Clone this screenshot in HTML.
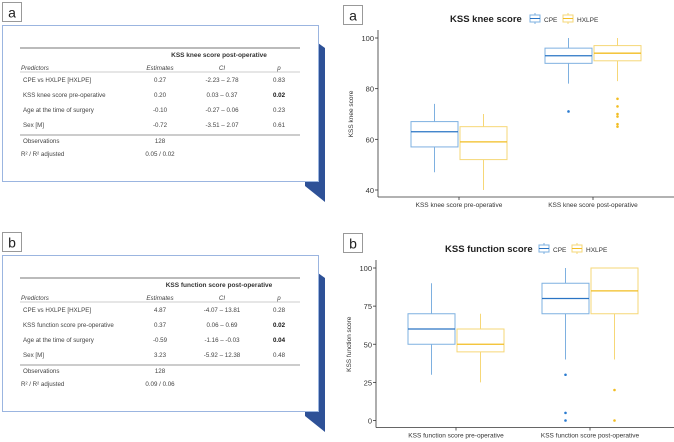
<!DOCTYPE html>
<html><head><meta charset="utf-8">
<style>
body{margin:0;width:674px;height:442px;background:#fff;overflow:hidden;font-family:"Liberation Sans",sans-serif;}
svg{position:absolute;left:0;top:0}
</style></head>
<body>
<svg id="s" width="674" height="442" xmlns="http://www.w3.org/2000/svg" font-family="Liberation Sans, sans-serif"></svg>
<script>
// ---- data ----
const groups = ['CPE','HXLPE'];
const kneeCats = ['KSS knee score pre-operative','KSS knee score post-operative'];
const kneeCPE = [[47,57,63,67,74],[82,90,93,96,100]];
const kneeHX = [[40,52,59,65,70],[83,91,94,97,100]];
const kneeCPEout = [[],[71]];
const kneeHXout = [[],[76,73,70,69,66,65]];
const kneeTicks = [40,60,80,100];
const funcCats = ['KSS function score pre-operative','KSS function score post-operative'];
const funcCPE = [[30,50,60,70,90],[40,70,80,90,100]];
const funcHX = [[25,45,50,60,70],[40,70,85,100,100]];
const funcCPEout = [[],[30,5,0]];
const funcHXout = [[],[20,0]];
const funcTicks = [0,25,50,75,100];

const tableA = [['CPE vs HXLPE [HXLPE]','0.27','-2.23 – 2.78','0.83',false],['KSS knee score pre-operative','0.20','0.03 – 0.37','0.02',true],['Age at the time of surgery','-0.10','-0.27 – 0.06','0.23',false],['Sex [M]','-0.72','-3.51 – 2.07','0.61',false]];
const tableB = [['CPE vs HXLPE [HXLPE]','4.87','-4.07 – 13.81','0.28',false],['KSS function score pre-operative','0.37','0.06 – 0.69','0.02',true],['Age at the time of surgery','-0.59','-1.16 – -0.03','0.04',true],['Sex [M]','3.23','-5.92 – 12.38','0.48',false]];

const S=document.getElementById('s');
const NS='http://www.w3.org/2000/svg';
function el(tag,attrs,parent,text){const e=document.createElementNS(NS,tag);for(const k in attrs)e.setAttribute(k,attrs[k]);if(text!==undefined)e.textContent=text;(parent||S).appendChild(e);return e;}

function labelBox(x,y,t,name){
  const g=el('g',{});
  
  
  el('rect',{x:x,y:y,width:19,height:19,fill:'#fff',stroke:'#999','stroke-width':1},g);
  el('text',{x:x+9.5,y:y+15,'font-size':14,'text-anchor':'middle',fill:'#222'},g,t);
}

function table(y0,title,rows,obs,r2,name){
  const g=el('g',{});
  
  
  // ribbon
  const rb=el('polygon',{points:`318,${y0+18} 325,${y0+23} 325,${y0+177} 305,${y0+161} 305,${y0+156} 318,${y0+156}`,fill:'#2e5197'},g);
  
  
  el('rect',{x:2.5,y:y0+0.5,width:316,height:156,fill:'#fff',stroke:'#9bb5e0','stroke-width':1},g);
  el('line',{x1:20,x2:300,y1:y0+23,y2:y0+23,stroke:'#777','stroke-width':1},g);
  el('text',{x:219,y:y0+32,'font-size':6.5,'font-weight':'bold','text-anchor':'middle',fill:'#333'},g,title);
  const hy=y0+45;
  el('text',{x:21,y:hy,'font-size':6.2,'font-style':'italic',fill:'#444'},g,'Predictors');
  el('text',{x:160,y:hy,'font-size':6.2,'font-style':'italic','text-anchor':'middle',fill:'#444'},g,'Estimates');
  el('text',{x:222,y:hy,'font-size':6.2,'font-style':'italic','text-anchor':'middle',fill:'#444'},g,'CI');
  el('text',{x:279,y:hy,'font-size':6.2,'font-style':'italic','text-anchor':'middle',fill:'#444'},g,'p');
  el('line',{x1:20,x2:300,y1:hy+2,y2:hy+2,stroke:'#999','stroke-width':0.6},g);
  rows.forEach((r,i)=>{
    const y=hy+12+i*15;
    el('text',{x:23,y:y,'font-size':6.2,fill:'#444'},g,r[0]);
    el('text',{x:160,y:y,'font-size':6.2,'text-anchor':'middle',fill:'#444'},g,r[1]);
    el('text',{x:222,y:y,'font-size':6.2,'text-anchor':'middle',fill:'#444'},g,r[2]);
    el('text',{x:279,y:y,'font-size':6.2,'text-anchor':'middle',fill:r[4]?'#111':'#444','font-weight':r[4]?'bold':'normal'},g,r[3]);
  });
  const ry=hy+12+3*15+8;
  el('line',{x1:20,x2:300,y1:ry,y2:ry,stroke:'#999','stroke-width':1},g);
  el('text',{x:23,y:ry+8,'font-size':6.2,fill:'#444'},g,'Observations');
  el('text',{x:160,y:ry+8,'font-size':6.2,'text-anchor':'middle',fill:'#444'},g,obs);
  el('text',{x:21,y:ry+21,'font-size':6.2,fill:'#444'},g,'R² / R² adjusted');
  el('text',{x:160,y:ry+21,'font-size':6.2,'text-anchor':'middle',fill:'#444'},g,r2);
}

const COL={CPE:{box:'#7eb0e0',med:'#2a74c4',pt:'#2a7bd0'},HXLPE:{box:'#f6d777',med:'#f2bd22',pt:'#f2bd22'}};

function chart(o){
  const g=el('g',{});
  
  
  const y=v=>o.yBot-(v-o.vMin)/(o.vMax-o.vMin)*(o.yBot-o.yTop);
  const x=i=>o.cx0+i*(o.cx1-o.cx0);
  // title & legend
  const t=el('text',{x:o.titleX,y:o.titleY,'font-size':9.5,'font-weight':'bold',fill:'#222'},g,o.title);
  
  
  groups.forEach((gr,k)=>{
    const lx=o.legX+k*33;
    const lg=el('g',{},g);
    
    
    el('line',{x1:lx+5,x2:lx+5,y1:o.titleY-9,y2:o.titleY+2,stroke:COL[gr].box,'stroke-width':1},lg);
    el('rect',{x:lx,y:o.titleY-7,width:10,height:7,fill:'#fff',stroke:COL[gr].box,'stroke-width':1},lg);
    el('line',{x1:lx,x2:lx+10,y1:o.titleY-3.5,y2:o.titleY-3.5,stroke:COL[gr].med,'stroke-width':1},lg);
    el('text',{x:lx+14,y:o.titleY,'font-size':6.5,fill:'#333'},lg,gr);
  });
  // axes
  el('line',{x1:o.axX,x2:674,y1:o.yBot+7,y2:o.yBot+7,stroke:'#333','stroke-width':0.8},g);
  el('line',{x1:o.axX,x2:o.axX,y1:o.yTop-8,y2:o.yBot+7,stroke:'#333','stroke-width':0.8},g);
  o.ticks.forEach(v=>{
    el('line',{x1:o.axX-3,x2:o.axX,y1:y(v),y2:y(v),stroke:'#333','stroke-width':0.8},g);
    const tt=el('text',{x:o.axX-4,y:y(v)+3,'font-size':7.5,'text-anchor':'end',fill:'#333'},g,v);
    
    
  });
  const yl=el('text',{x:0,y:0,'font-size':6.5,'text-anchor':'middle',fill:'#333',transform:`translate(${o.axX-25},${(o.yTop+o.yBot)/2}) rotate(-90)`},g,o.ylab);
  
  
  o.cats.forEach((c,i)=>{
    el('line',{x1:x(i),x2:x(i),y1:o.yBot+7,y2:o.yBot+10,stroke:'#333','stroke-width':0.8},g);
    const xl=el('text',{x:x(i),y:o.yBot+17,'font-size':6.5,'text-anchor':'middle',fill:'#333'},g,c);
    
    
  });
  [[o.cpe,o.cpeOut,'CPE',-1],[o.hx,o.hxOut,'HXLPE',1]].forEach(([d,out,gr,sgn])=>{
    d.forEach((q,i)=>{
      const cx=x(i)+sgn*24.5, w=47;
      const b=el('g',{},g);
      
      
      el('line',{x1:cx,x2:cx,y1:y(q[0]),y2:y(q[1]),stroke:COL[gr].box,'stroke-width':1},b);
      el('line',{x1:cx,x2:cx,y1:y(q[3]),y2:y(q[4]),stroke:COL[gr].box,'stroke-width':1},b);
      el('rect',{x:cx-w/2,y:y(q[3]),width:w,height:Math.max(0.5,y(q[1])-y(q[3])),fill:'#fff',stroke:COL[gr].box,'stroke-width':1},b);
      el('line',{x1:cx-w/2,x2:cx+w/2,y1:y(q[2]),y2:y(q[2]),stroke:COL[gr].med,'stroke-width':1.3},b);
      out[i].forEach(v=>{
        const p=el('circle',{cx:cx,cy:y(v),r:1.3,fill:COL[gr].pt},b);
        
        
      });
    });
  });
}

labelBox(2.5,2.5,'a','table-a-label');
table(25,'KSS knee score post-operative',tableA,'128','0.05   / 0.02','table-a');
labelBox(2.5,232.5,'b','table-b-label');
table(255,'KSS function score post-operative',tableB,'128','0.09   / 0.06','table-b');
labelBox(343.5,5.5,'a','chart-a-label');
labelBox(343.5,233.5,'b','chart-b-label');

chart({name:'knee-score-chart',title:'KSS knee score',titleX:450,titleY:22,legX:530,
  axX:378,yTop:38,yBot:190,vMin:40,vMax:100,cx0:459,cx1:593,ticks:kneeTicks,ylab:'KSS knee score',
  cats:kneeCats,cpe:kneeCPE,hx:kneeHX,cpeOut:kneeCPEout,hxOut:kneeHXout});
chart({name:'function-score-chart',title:'KSS function score',titleX:445,titleY:252,legX:539,
  axX:376,yTop:268,yBot:420.5,vMin:0,vMax:100,cx0:456,cx1:590,ticks:funcTicks,ylab:'KSS function score',
  cats:funcCats,cpe:funcCPE,hx:funcHX,cpeOut:funcCPEout,hxOut:funcHXout});
</script>
</body></html>
